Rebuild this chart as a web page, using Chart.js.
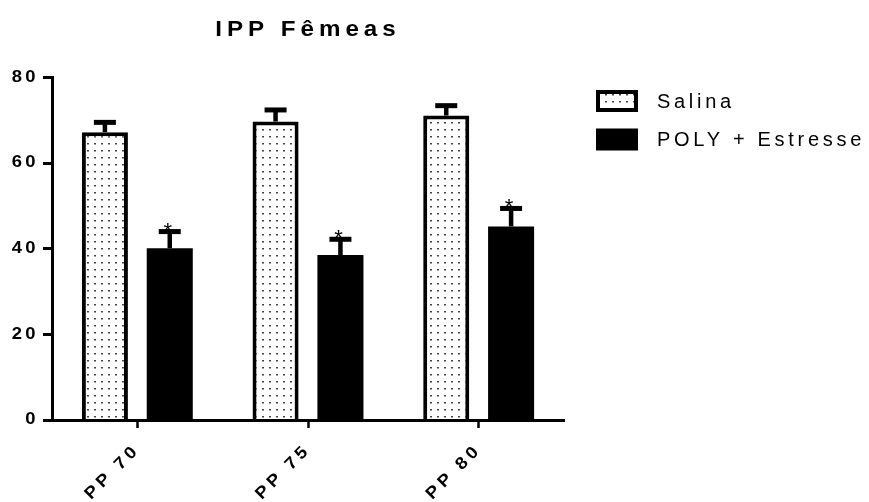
<!DOCTYPE html>
<html>
<head>
<meta charset="utf-8">
<script src="https://cdn.jsdelivr.net/npm/chart.js@4.4.1/dist/chart.umd.min.js"></script>
<style>
  body { margin: 0; background: #fff; }
  canvas { display: block; }
</style>
</head>
<body>
<canvas id="ippChart" width="869" height="502"></canvas>
<script>
const categories = ['PP 70', 'PP 75', 'PP 80'];
const salina = [67.2, 69.7, 71.1];
const salinaSem = [2.3, 2.7, 2.3];
const poly = [40.1, 38.5, 45.2];
const polySem = [3.9, 3.7, 4.2];
const polyMarks = ['*', '*', '*'];
const yTicks = [0, 20, 40, 60, 80];

const errors = [salinaSem, polySem];
const marks = [null, polyMarks];
const FONT = '"Liberation Sans", Arial, sans-serif';
Chart.defaults.font.family = FONT;

const canvas = document.getElementById('ippChart');
const ctx2d = canvas.getContext('2d');

// the exported figure has slightly wide glyphs; fake that on fillText
const plainFill = ctx2d.fillText;
ctx2d.fillText = function (text, x, y, w) {
  const sx = this.stretch || 1;
  if (sx === 1) return w === undefined ? plainFill.call(this, text, x, y) : plainFill.call(this, text, x, y, w);
  this.save();
  this.translate(x, y);
  this.scale(sx, 1);
  plainFill.call(this, text, 0, 0);
  this.restore();
};

// dotted fill like the GraphPad control bars
function dots() {
  const c = document.createElement('canvas');
  c.width = 7; c.height = 7;
  const g = c.getContext('2d');
  g.fillStyle = '#fff';
  g.fillRect(0, 0, 7, 7);
  g.fillStyle = '#444';
  g.fillRect(3, 3, 2, 1.5);
  return ctx2d.createPattern(c, 'repeat');
}

function styled(obj, method, stretch, px) {
  const orig = obj[method];
  if (orig._styled) return;
  obj[method] = function (...args) {
    this.ctx.stretch = stretch;
    this.ctx.letterSpacing = px;
    orig.apply(this, args);
    this.ctx.stretch = 1;
    this.ctx.letterSpacing = '0px';
  };
  obj[method]._styled = true;
}

const textStyle = {
  id: 'textStyle',
  beforeDraw(chart) {
    styled(chart.titleBlock, 'draw', 1.1, '4.5px');
    styled(chart.scales.x, 'drawLabels', 1.1, '3.5px');
    styled(chart.scales.y, 'drawLabels', 1.15, '3px');
  }
};

const errorBars = {
  id: 'errorBars',
  afterDatasetsDraw(chart) {
    const ctx = chart.ctx;
    const y = chart.scales.y;
    ctx.save();
    ctx.fillStyle = '#000';
    ctx.font = '22px ' + FONT;
    ctx.textAlign = 'center';
    chart.data.datasets.forEach((ds, i) => {
      chart.getDatasetMeta(i).data.forEach((bar, j) => {
        const top = y.getPixelForValue(ds.data[j] + errors[i][j]);
        ctx.fillRect(bar.x - 2.25, top, 4.5, bar.y - top);
        ctx.fillRect(bar.x - 11, top - 2.5, 22, 5);
        if (marks[i]) ctx.fillText(marks[i][j], bar.x - 2, top + 6);
      });
    });
    ctx.restore();
  }
};

const sideLegend = {
  id: 'sideLegend',
  afterDraw(chart) {
    const ctx = chart.ctx;
    ctx.save();
    ctx.font = '20px ' + FONT;
    ctx.letterSpacing = '3.7px';
    ctx.textBaseline = 'middle';
    chart.data.datasets.forEach((ds, i) => {
      const x = 596, y = 90 + i * 38.5;
      ctx.fillStyle = ds.backgroundColor;
      ctx.fillRect(x, y, 42, 22);
      if (ds.borderWidth) {
        ctx.lineWidth = 4;
        ctx.strokeStyle = '#000';
        ctx.strokeRect(x + 2, y + 2, 38, 18);
      }
      ctx.fillStyle = '#000';
      ctx.fillText(ds.label, 657, y + 12);
    });
    ctx.restore();
  }
};

new Chart(canvas, {
  type: 'bar',
  data: {
    labels: categories,
    datasets: [
      { label: 'Salina', data: salina, backgroundColor: dots(), borderColor: '#000', borderWidth: 4 },
      { label: 'POLY + Estresse', data: poly, backgroundColor: '#000', borderWidth: 0 }
    ]
  },
  options: {
    responsive: false,
    animation: false,
    events: [],
    categoryPercentage: 0.76,
    barPercentage: 0.71,
    layout: { padding: { left: 0, right: 305, top: 0, bottom: 0 } },
    plugins: {
      legend: { display: false },
      tooltip: { enabled: false },
      title: {
        display: true,
        text: 'IPP Fêmeas',
        fullSize: false,
        color: '#000',
        font: { size: 22, weight: 'bold' },
        padding: { top: 17, bottom: 34 }
      }
    },
    scales: {
      x: {
        grid: { drawOnChartArea: false, offset: false, tickLength: 8, tickWidth: 2.5, tickColor: '#000' },
        border: { display: true, color: '#000', width: 3, z: 1 },
        ticks: { color: '#000', font: { size: 17, weight: 'bold' }, maxRotation: 45, minRotation: 45, padding: 12 },
        afterFit(s) { s.height = 82; }
      },
      y: {
        min: 0,
        max: 80,
        afterBuildTicks(s) { s.ticks = yTicks.map(v => ({ value: v })); },
        grid: { drawOnChartArea: false, tickLength: 9, tickWidth: 3, tickColor: '#000' },
        border: { display: true, color: '#000', width: 3, z: 1 },
        ticks: { color: '#000', font: { size: 16, weight: 'bold' }, padding: 4 },
        afterFit(s) { s.width = 52; }
      }
    }
  },
  plugins: [textStyle, errorBars, sideLegend]
});
</script>
</body>
</html>
